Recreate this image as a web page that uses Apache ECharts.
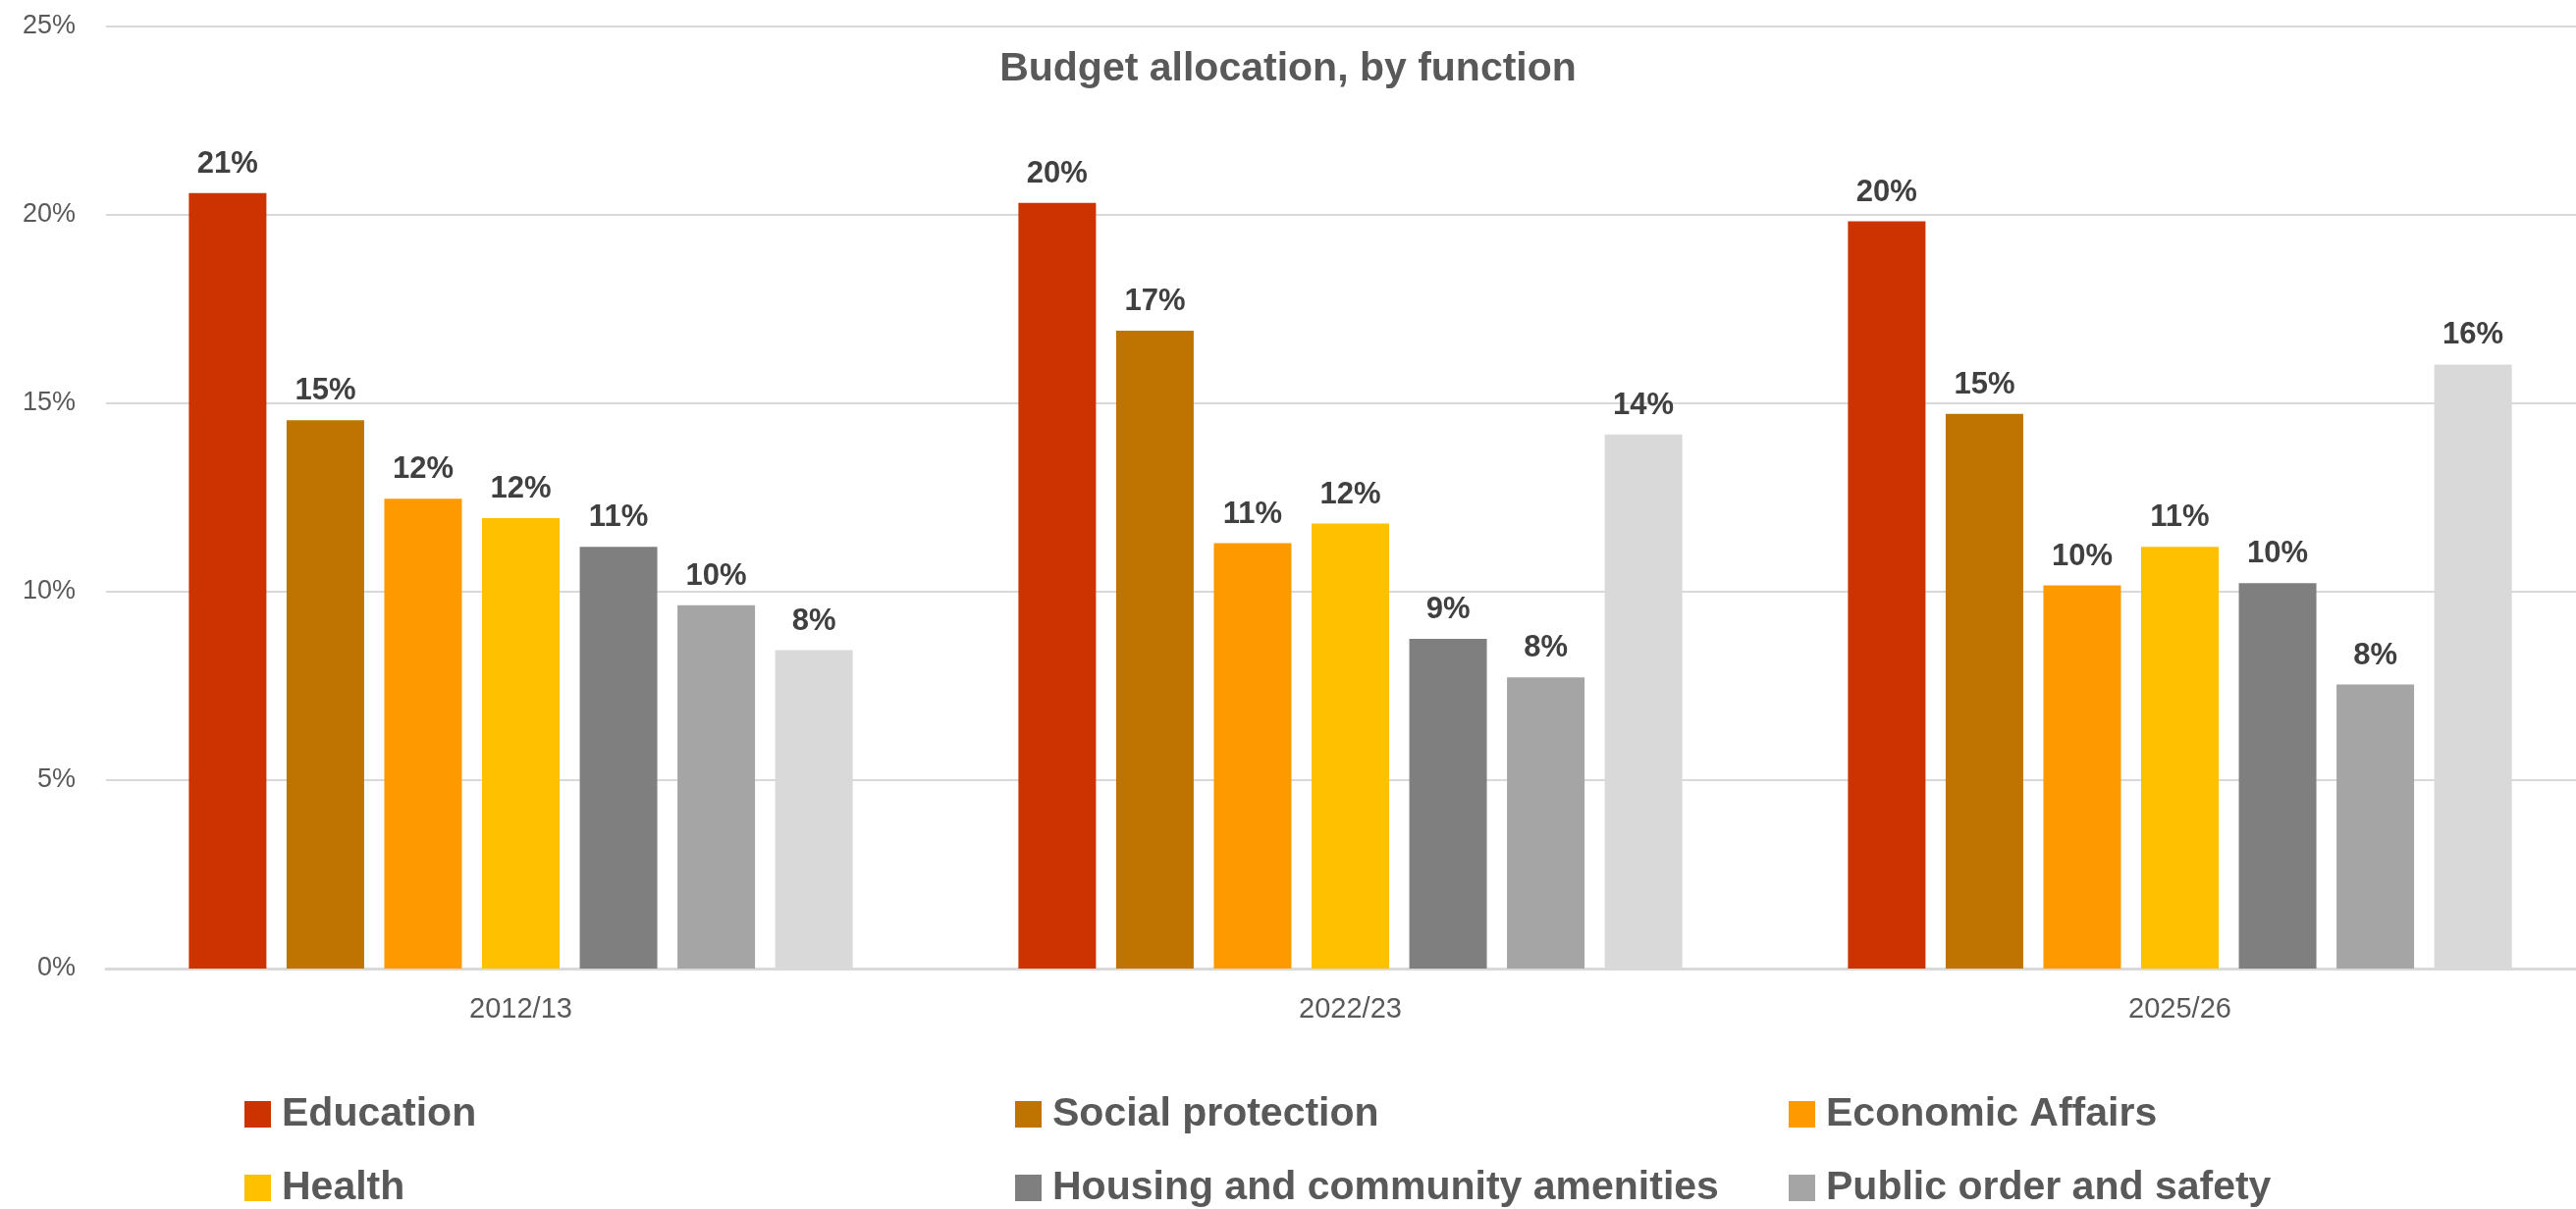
<!DOCTYPE html>
<html>
<head>
<meta charset="utf-8">
<title>Budget allocation, by function</title>
<script src="https://cdn.jsdelivr.net/npm/echarts@6/dist/echarts.min.js"></script>
<style>
  html, body { margin: 0; padding: 0; background: #ffffff; }
  #chart { width: 2624px; height: 1232px; }
</style>
</head>
<body>
<div id="chart"></div>
<script>
// Fiscal years on the category axis
const years = ['2012/13', '2022/23', '2025/26'];

// Share of total budget (%) per function
const education      = [20.58, 20.32, 19.83];
const socialProt     = [14.55, 16.93, 14.72];
const economic       = [12.47, 11.29, 10.17];
const health         = [11.95, 11.81, 11.19];
const housing        = [11.19,  8.75, 10.23];
const publicOrder    = [ 9.64,  7.73,  7.54];
const debtService    = [ 8.45, 14.17, 16.03];

// Value-axis ticks
const yTicks = [0, 5, 10, 15, 20, 25];

const seriesDefs = [
  { name: 'Education',                        data: education,   color: '#CC3300' },
  { name: 'Social protection',                data: socialProt,  color: '#BF7300' },
  { name: 'Economic Affairs',                 data: economic,    color: '#FF9900' },
  { name: 'Health',                           data: health,      color: '#FFC000' },
  { name: 'Housing and community amenities',  data: housing,     color: '#7F7F7F' },
  { name: 'Public order and safety',          data: publicOrder, color: '#A5A5A5' },
  { name: 'Debt service costs',               data: debtService, color: '#D9D9D9' }
];

// Only the first six functions appear in the key, laid out 3 per row
const legendNames = seriesDefs.slice(0, 6).map(s => s.name);
const legendCols = [244, 1029, 1817];
const legendRows = [1110, 1185];

const legends = legendNames.map((name, i) => ({
  data: [name],
  left: legendCols[i % 3],
  top: legendRows[Math.floor(i / 3)],
  orient: 'horizontal',
  icon: 'rect',
  itemWidth: 27,
  itemHeight: 27,
  selectedMode: false,
  textStyle: {
    fontFamily: '"Liberation Sans", Arial, sans-serif',
    fontSize: 41,
    fontWeight: 'bold',
    color: '#595959',
    padding: [0, 0, 0, 6]
  }
}));

const chart = echarts.init(document.getElementById('chart'), null, { renderer: 'canvas' });

chart.setOption({
  backgroundColor: '#ffffff',
  animation: false,
  title: {
    text: 'Budget allocation, by function',
    left: 'center',
    top: 45,
    textStyle: {
      fontFamily: '"Liberation Sans", Arial, sans-serif',
      fontSize: 41,
      fontWeight: 'bold',
      color: '#595959'
    }
  },
  legend: legends,
  grid: {
    left: 108,
    width: 2535,
    top: 27,
    bottom: 245,
    containLabel: false,
    outerBoundsMode: 'none'
  },
  xAxis: {
    type: 'category',
    data: years,
    axisLine: { show: true, lineStyle: { color: '#D9D9D9', width: 3 } },
    axisTick: { show: false },
    axisLabel: {
      margin: 27,
      fontFamily: '"Liberation Sans", Arial, sans-serif',
      fontSize: 29,
      color: '#595959'
    }
  },
  yAxis: {
    type: 'value',
    min: yTicks[0],
    max: yTicks[yTicks.length - 1],
    interval: yTicks[1] - yTicks[0],
    axisLine: { show: false },
    axisTick: { show: false },
    splitLine: { show: true, lineStyle: { color: '#D9D9D9', width: 2 } },
    axisLabel: {
      margin: 31,
      formatter: '{value}%',
      fontFamily: '"Liberation Sans", Arial, sans-serif',
      fontSize: 27,
      color: '#595959'
    }
  },
  series: seriesDefs.map(s => ({
    name: s.name,
    type: 'bar',
    data: s.data,
    barWidth: 79,
    barGap: '26%',
    itemStyle: { color: s.color },
    label: {
      show: true,
      position: 'top',
      distance: 14,
      formatter: p => Math.round(p.value) + '%',
      fontFamily: '"Liberation Sans", Arial, sans-serif',
      fontSize: 31,
      fontWeight: 'bold',
      color: '#404040'
    }
  }))
});
</script>
</body>
</html>
